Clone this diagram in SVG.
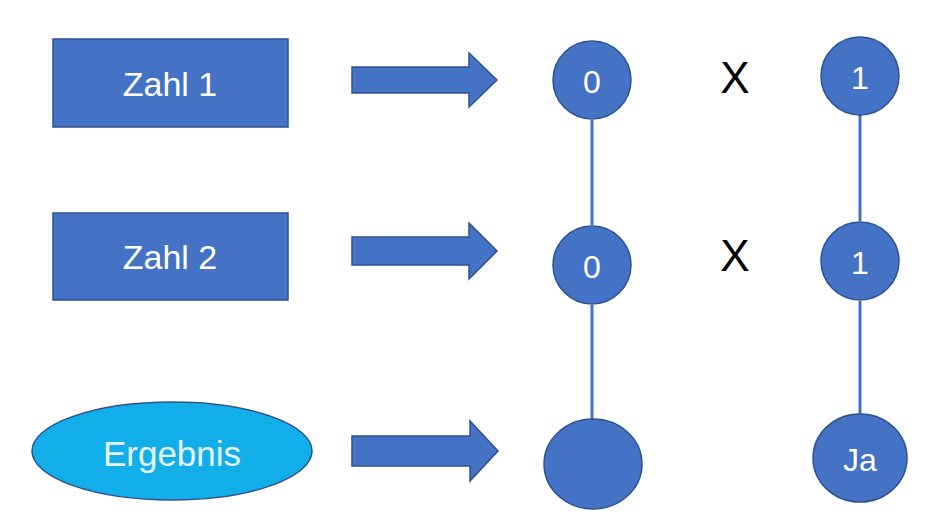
<svg xmlns="http://www.w3.org/2000/svg" width="945" height="525" viewBox="0 0 945 525">
<style>
.box{fill:#4472c4;stroke:#2f528f;stroke-width:1.5}
.ell{fill:#12aee9;stroke:#2f528f;stroke-width:1.5}
.t{font-family:"Liberation Sans",Arial,sans-serif;fill:#ffffff;text-anchor:middle;dominant-baseline:central}
.x{font-family:"Liberation Sans",Arial,sans-serif;fill:#000000;text-anchor:middle;dominant-baseline:central;font-size:44px}
.line{stroke:#4472c4;stroke-width:3;fill:none}
</style>
<rect width="945" height="525" fill="#ffffff"/>
<g id="connectors">
<line class="line" x1="592" y1="120" x2="592" y2="225"/>
<line class="line" x1="592" y1="305" x2="592" y2="419"/>
<line class="line" x1="860" y1="115" x2="860" y2="221"/>
<line class="line" x1="860" y1="301" x2="860" y2="414"/>
<path class="box" d="M352,67 H469 V53 L497,80 L469,107 V93 H352 Z"/>
<path class="box" d="M352,237 H469 V223 L497,251 L469,279 V265 H352 Z"/>
<path class="box" d="M352,436 H470 V421 L498,451 L470,481 V466 H352 Z"/>
</g>
<g id="zahl1"><rect class="box" x="53" y="39" width="235" height="88"/><text class="t" x="170" y="84" font-size="34">Zahl 1</text></g>
<g id="zahl2"><rect class="box" x="53" y="213" width="235" height="87"/><text class="t" x="170" y="257" font-size="34">Zahl 2</text></g>
<g id="ergebnis"><ellipse class="ell" cx="172" cy="451" rx="140" ry="49"/><text class="t" x="172" y="453" font-size="35" style="fill:#e6f3fb">Ergebnis</text></g>
<g id="n0a"><circle class="box" cx="592" cy="80" r="39"/><text class="t" x="592" y="82" font-size="32">0</text></g>
<g id="n0b"><circle class="box" cx="592" cy="265" r="39"/><text class="t" x="592" y="267" font-size="32">0</text></g>
<g id="n0c"><ellipse class="box" cx="593" cy="464" rx="49" ry="45"/></g>
<g id="n1a"><circle class="box" cx="860" cy="76" r="39"/><text class="t" x="860" y="78" font-size="32">1</text></g>
<g id="n1b"><circle class="box" cx="860" cy="261" r="39"/><text class="t" x="860" y="263" font-size="32">1</text></g>
<g id="nja"><ellipse class="box" cx="860" cy="458" rx="47" ry="44"/><text class="t" x="860" y="460" font-size="32">Ja</text></g>
<g id="x1"><text class="x" x="735" y="77">X</text></g>
<g id="x2"><text class="x" x="735" y="255">X</text></g>
</svg>
